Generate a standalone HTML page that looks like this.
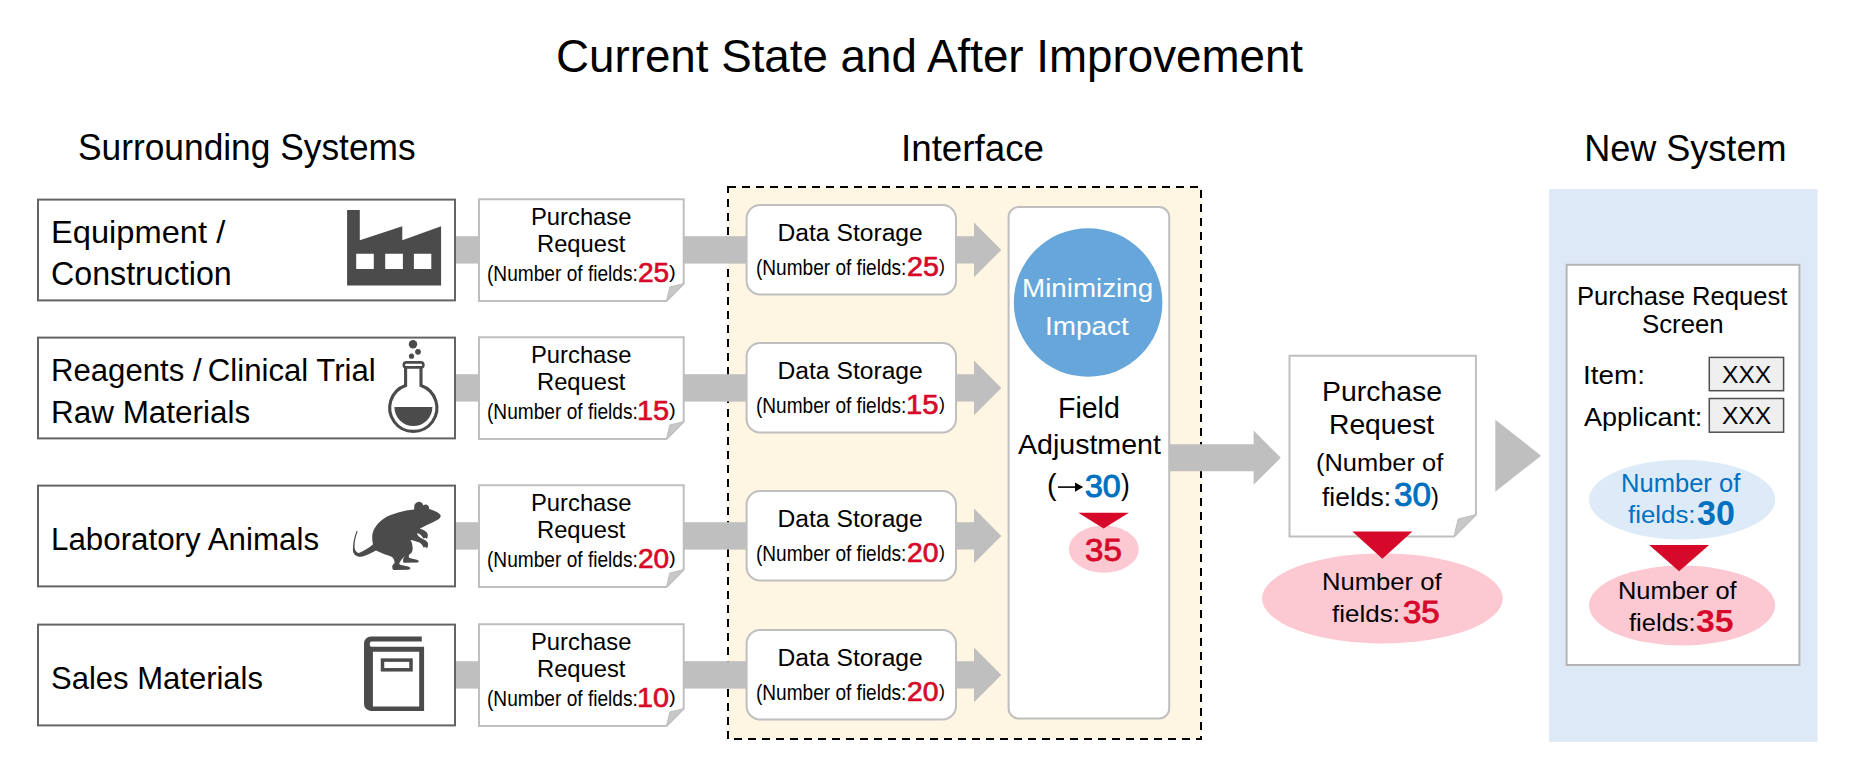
<!DOCTYPE html>
<html><head><meta charset="utf-8"><style>
html,body{margin:0;padding:0;background:#fff;}
body{width:1860px;height:778px;position:relative;overflow:hidden;font-family:"Liberation Sans",sans-serif;}
svg{position:absolute;left:0;top:0;}
.t{position:absolute;white-space:pre;line-height:1;transform-origin:0 0;}
</style></head><body>
<svg width="1860" height="778" viewBox="0 0 1860 778">
<rect x="728" y="187" width="473" height="552" fill="#fef5e3" stroke="#000" stroke-width="2" stroke-dasharray="8 6"/>
<rect x="1549" y="189.2" width="268.5" height="552.7" fill="#dde9f7"/>
<rect x="455" y="236.2" width="292" height="27.4" fill="#bfbfbf"/>
<rect x="38" y="199.6" width="417" height="100.8" fill="#fff" stroke="#646464" stroke-width="2"/>
<path d="M479,199.2 H683.7 V283.6 L666.5,300.9 H479 Z" fill="#fff" stroke="#bfbfbf" stroke-width="2" stroke-linejoin="miter"/>
<path d="M666.5,300.9 L669.8,287.0 L683.7,283.6 Z" fill="#c8c8c8" stroke="#bfbfbf" stroke-width="1" stroke-linejoin="round"/>
<rect x="746.6" y="205.1" width="209.4" height="89.4" rx="13.5" ry="13.5" fill="#fff" stroke="#bfbfbf" stroke-width="2"/>
<polygon points="955,236.2 974,236.2 974,222.6 1001.3,249.9 974,277.2 974,263.6 955,263.6" fill="#bfbfbf"/>
<rect x="455" y="374.2" width="292" height="27.4" fill="#bfbfbf"/>
<rect x="38" y="337.6" width="417" height="100.8" fill="#fff" stroke="#646464" stroke-width="2"/>
<path d="M479,337.2 H683.7 V421.6 L666.5,438.9 H479 Z" fill="#fff" stroke="#bfbfbf" stroke-width="2" stroke-linejoin="miter"/>
<path d="M666.5,438.9 L669.8,425.0 L683.7,421.6 Z" fill="#c8c8c8" stroke="#bfbfbf" stroke-width="1" stroke-linejoin="round"/>
<rect x="746.6" y="343.1" width="209.4" height="89.4" rx="13.5" ry="13.5" fill="#fff" stroke="#bfbfbf" stroke-width="2"/>
<polygon points="955,374.2 974,374.2 974,360.6 1001.3,387.9 974,415.2 974,401.6 955,401.6" fill="#bfbfbf"/>
<rect x="455" y="522.2" width="292" height="27.4" fill="#bfbfbf"/>
<rect x="38" y="485.6" width="417" height="100.8" fill="#fff" stroke="#646464" stroke-width="2"/>
<path d="M479,485.2 H683.7 V569.6 L666.5,586.9 H479 Z" fill="#fff" stroke="#bfbfbf" stroke-width="2" stroke-linejoin="miter"/>
<path d="M666.5,586.9 L669.8,573.0 L683.7,569.6 Z" fill="#c8c8c8" stroke="#bfbfbf" stroke-width="1" stroke-linejoin="round"/>
<rect x="746.6" y="491.1" width="209.4" height="89.4" rx="13.5" ry="13.5" fill="#fff" stroke="#bfbfbf" stroke-width="2"/>
<polygon points="955,522.2 974,522.2 974,508.6 1001.3,535.9 974,563.2 974,549.6 955,549.6" fill="#bfbfbf"/>
<rect x="455" y="661.2" width="292" height="27.4" fill="#bfbfbf"/>
<rect x="38" y="624.6" width="417" height="100.8" fill="#fff" stroke="#646464" stroke-width="2"/>
<path d="M479,624.2 H683.7 V708.6 L666.5,725.9 H479 Z" fill="#fff" stroke="#bfbfbf" stroke-width="2" stroke-linejoin="miter"/>
<path d="M666.5,725.9 L669.8,712.0 L683.7,708.6 Z" fill="#c8c8c8" stroke="#bfbfbf" stroke-width="1" stroke-linejoin="round"/>
<rect x="746.6" y="630.1" width="209.4" height="89.4" rx="13.5" ry="13.5" fill="#fff" stroke="#bfbfbf" stroke-width="2"/>
<polygon points="955,661.2 974,661.2 974,647.6 1001.3,674.9 974,702.2 974,688.6 955,688.6" fill="#bfbfbf"/>
<rect x="1008.6" y="207" width="160.6" height="511.5" rx="10" ry="10" fill="#fff" stroke="#bfbfbf" stroke-width="2"/>
<circle cx="1088.1" cy="302.5" r="74.3" fill="#66a6da"/>
<path d="M1058,487.1 H1076" stroke="#000" stroke-width="1.6"/>
<polygon points="1075,482.4 1083.2,487.1 1075,491.8" fill="#000"/>
<ellipse cx="1103.8" cy="549.1" rx="35" ry="23.6" fill="#fcc9d2"/>
<polygon points="1078.3,512.8 1128.9,512.8 1103.6,528.6" fill="#d7092a"/>
<polygon points="1169,444.2 1253.6,444.2 1253.6,430.6 1280.8,457.7 1253.6,484.8 1253.6,471.2 1169,471.2" fill="#bfbfbf"/>
<path d="M1289.5,355.8 H1475.9 V514.7 L1454,536.6 H1289.5 Z" fill="#fff" stroke="#bfbfbf" stroke-width="2"/>
<path d="M1454,536.6 L1458.2,519 L1475.9,514.7 Z" fill="#c8c8c8" stroke="#bfbfbf" stroke-width="1" stroke-linejoin="round"/>
<ellipse cx="1382.4" cy="598.4" rx="120.3" ry="45" fill="#fcc9d2"/>
<polygon points="1352.3,531.4 1412.4,531.4 1382.4,558.8" fill="#d7092a"/>
<polygon points="1495.3,419.8 1541.1,455.7 1495.3,491.7" fill="#bfbfbf"/>
<rect x="1566.6" y="264.8" width="232.8" height="400.2" fill="#fff" stroke="#b4b4b4" stroke-width="2"/>
<rect x="1709.3" y="357.4" width="74.3" height="33.3" fill="#efefef" stroke="#505050" stroke-width="1.5"/>
<rect x="1709.3" y="398.5" width="74.3" height="33.7" fill="#efefef" stroke="#505050" stroke-width="1.5"/>
<ellipse cx="1682.1" cy="499.6" rx="93.1" ry="39.9" fill="#ddeaf7"/>
<ellipse cx="1682.1" cy="605.5" rx="93.1" ry="39.9" fill="#fcc9d2"/>
<polygon points="1649.2,544.9 1709.1,544.9 1679.1,571.3" fill="#d7092a"/>
<path d="M347.1,210 H359.8 V240.3 L402.3,226.3 V240.3 L441.1,226.3 V285.5 H347.1 Z M356.2,253.7 V269 H373.8 V253.7 Z M385.2,253.7 V269 H402.9 V253.7 Z M413.9,253.7 V269 H431.3 V253.7 Z" fill="#4b4b4b" fill-rule="evenodd"/>
<circle cx="413" cy="344.2" r="4.2" fill="#4b4b4b"/>
<circle cx="418" cy="351.8" r="2.9" fill="#4b4b4b"/>
<circle cx="411.5" cy="356.2" r="2.6" fill="#4b4b4b"/>
<rect x="403.8" y="362.4" width="19.6" height="5" rx="2.5" fill="none" stroke="#4b4b4b" stroke-width="2.6"/>
<path d="M405.6,368 V385.5 A23.6,23.6 0 1 0 421,385.5 V368" fill="none" stroke="#4b4b4b" stroke-width="3.1"/>
<path d="M394.4,407.1 H432.4 A19,19 0 0 1 394.4,407.1 Z" fill="#4b4b4b"/>
<path d="M440.6,515.4 C439.5,512.8 434,510.5 429.1,509.1 C429.5,506.5 427.5,504.3 425.5,504.6 C424.2,504.8 423.6,505.3 423.3,505.6 C422.8,502.5 420.5,501.5 419,501.7 C416.3,502 414.2,503.8 414.3,506.3 L414.1,509.6 C404,510.5 392,513.5 384,518.5 C376,524 372,531 372.2,537.5 C372.3,541 372.6,543 373.1,544.3 C369.5,547.5 364,551 359.6,552.8 C357,553.5 355,551 354.6,548.1 C354.3,544 355.2,537 357.7,531.3 L356.6,531 C354.5,536 352.8,543 352.9,550 C353,554 356,556.8 360.6,556.8 C365,556.8 371,553 376,550.6 C379,552 382,553.5 385,554.6 C388,555.5 390.5,556 391.9,557 C393.5,558 394.5,560 394.6,563.1 C393.5,564 392.5,565 392.3,566.5 C392.1,568.5 392.8,570 394.5,570.1 L408.1,569.7 C409.5,569.5 410.5,568.8 410.3,568.1 C410,567 409,566.5 408.1,566.4 L401,565 C399.8,564.7 399,563.8 399.5,562.8 C401,560 403,557.5 405.1,555.4 C404,557 403.2,558.5 403.1,559.7 L403.1,562.3 C403.2,562.6 403.7,562.7 404.3,562.7 L417.8,562.4 C418.5,562.3 418.9,561.8 418.7,561.2 C418.3,560.2 417,559.7 415.9,559.5 L409.3,558.1 C408.8,557.5 408.7,556 408.9,555 C410.5,553.5 411.8,552.5 412,551.9 C412.8,550 412.8,548 412.6,546.9 C412.3,544 411.5,541.5 410.4,540.1 C412.5,540.5 415.5,541.3 418.1,542.1 C420.5,542.8 422.5,545 423.1,546.7 L423.5,547.5 L425.8,547.1 L427,548.6 C427.8,547 428.3,545 428,543.5 C427.5,541.5 425,539.8 422.7,539 C419.5,537.5 417.5,535.5 417,533.2 C420,533.5 422,536 423.5,538.6 L425.8,537.8 L426.4,538.8 L427.2,538.2 C428.2,536 428,533.6 426.6,532.2 C425,530.8 422,529.3 419.8,528.6 C426,525.5 433,522 436.8,520.2 C439.5,519 441,517 440.6,515.4 Z" fill="#4b4b4b"/>
<path d="M371,636.4 H421.8 V641.6 H371 A3.2,3.2 0 0 0 371,646.8 H424.1 V710.9 H371 A7,7 0 0 1 364,703.9 V643.4 A7,7 0 0 1 371,636.4 Z M372.9,651.7 V706.5 H419.2 V651.7 Z" fill="#4b4b4b" fill-rule="evenodd"/>
<rect x="382.5" y="660.1" width="28.5" height="9.7" fill="none" stroke="#4b4b4b" stroke-width="3.5"/>
</svg>
<div class="t" style="left:555.81px;top:32.86px;font-size:46.69px;transform:scaleX(0.9792);font-weight:normal;color:#000;">Current State and After Improvement</div>
<div class="t" style="left:78.23px;top:128.90px;font-size:37.32px;transform:scaleX(0.9464);font-weight:normal;color:#000;">Surrounding Systems</div>
<div class="t" style="left:901.47px;top:130.28px;font-size:37.19px;transform:scaleX(0.9889);font-weight:normal;color:#000;">Interface</div>
<div class="t" style="left:1584.16px;top:131.24px;font-size:36.05px;font-weight:normal;color:#000;">New System</div>
<div class="t" style="left:50.84px;top:216.74px;font-size:31.54px;transform:scaleX(1.0355);font-weight:normal;color:#000;">Equipment /</div>
<div class="t" style="left:51.18px;top:257.94px;font-size:32.39px;transform:scaleX(0.9941);font-weight:normal;color:#000;">Construction</div>
<div class="t" style="left:50.51px;top:354.88px;font-size:31.01px;transform:scaleX(1.0044);font-weight:normal;color:#000;">Reagents / Clinical Trial</div>
<div class="t" style="left:50.68px;top:395.87px;font-size:32.06px;transform:scaleX(0.9814);font-weight:normal;color:#000;">Raw Materials</div>
<div class="t" style="left:50.80px;top:522.59px;font-size:32.23px;transform:scaleX(0.9719);font-weight:normal;color:#000;">Laboratory Animals</div>
<div class="t" style="left:50.59px;top:662.91px;font-size:31.64px;transform:scaleX(0.9806);font-weight:normal;color:#000;">Sales Materials</div>
<div class="t" style="left:531.06px;top:206.33px;font-size:22.99px;transform:scaleX(1.0344);font-weight:normal;color:#000;">Purchase</div>
<div class="t" style="left:536.70px;top:231.69px;font-size:23.82px;transform:scaleX(0.9963);font-weight:normal;color:#000;">Request</div>
<div class="t" style="left:486.99px;top:262.51px;font-size:21.58px;transform:scaleX(0.8857);font-weight:normal;color:#000;">(Number of fields:</div>
<div class="t" style="left:637.72px;top:259.41px;font-size:27.96px;transform:scaleX(1.0040);font-weight:normal;color:#d7092a;-webkit-text-stroke:0.7px #d7092a;">25</div>
<div class="t" style="left:669.45px;top:262.62px;font-size:18.44px;transform:scaleX(1.0865);font-weight:normal;color:#000;">)</div>
<div class="t" style="left:777.51px;top:220.63px;font-size:24.67px;font-weight:normal;color:#000;">Data Storage</div>
<div class="t" style="left:756.40px;top:256.66px;font-size:21.60px;transform:scaleX(0.8824);font-weight:normal;color:#000;">(Number of fields:</div>
<div class="t" style="left:906.59px;top:253.26px;font-size:27.46px;transform:scaleX(1.0425);font-weight:normal;color:#d7092a;-webkit-text-stroke:0.7px #d7092a;">25</div>
<div class="t" style="left:939.42px;top:257.02px;font-size:18.95px;transform:scaleX(0.9401);font-weight:normal;color:#000;">)</div>
<div class="t" style="left:531.06px;top:344.33px;font-size:22.99px;transform:scaleX(1.0344);font-weight:normal;color:#000;">Purchase</div>
<div class="t" style="left:536.70px;top:369.69px;font-size:23.82px;transform:scaleX(0.9963);font-weight:normal;color:#000;">Request</div>
<div class="t" style="left:486.99px;top:400.51px;font-size:21.58px;transform:scaleX(0.8857);font-weight:normal;color:#000;">(Number of fields:</div>
<div class="t" style="left:637.02px;top:396.34px;font-size:28.54px;transform:scaleX(1.0147);font-weight:normal;color:#d7092a;-webkit-text-stroke:0.7px #d7092a;">15</div>
<div class="t" style="left:669.45px;top:400.62px;font-size:18.44px;transform:scaleX(1.0865);font-weight:normal;color:#000;">)</div>
<div class="t" style="left:777.51px;top:358.63px;font-size:24.67px;font-weight:normal;color:#000;">Data Storage</div>
<div class="t" style="left:756.40px;top:394.66px;font-size:21.60px;transform:scaleX(0.8824);font-weight:normal;color:#000;">(Number of fields:</div>
<div class="t" style="left:906.24px;top:391.26px;font-size:27.46px;transform:scaleX(1.0668);font-weight:normal;color:#d7092a;-webkit-text-stroke:0.7px #d7092a;">15</div>
<div class="t" style="left:939.42px;top:395.02px;font-size:18.95px;transform:scaleX(0.9401);font-weight:normal;color:#000;">)</div>
<div class="t" style="left:531.06px;top:492.33px;font-size:22.99px;transform:scaleX(1.0344);font-weight:normal;color:#000;">Purchase</div>
<div class="t" style="left:536.70px;top:517.69px;font-size:23.82px;transform:scaleX(0.9963);font-weight:normal;color:#000;">Request</div>
<div class="t" style="left:486.99px;top:548.51px;font-size:21.58px;transform:scaleX(0.8857);font-weight:normal;color:#000;">(Number of fields:</div>
<div class="t" style="left:637.73px;top:544.34px;font-size:28.54px;transform:scaleX(0.9836);font-weight:normal;color:#d7092a;-webkit-text-stroke:0.7px #d7092a;">20</div>
<div class="t" style="left:669.45px;top:548.62px;font-size:18.44px;transform:scaleX(1.0865);font-weight:normal;color:#000;">)</div>
<div class="t" style="left:777.51px;top:506.63px;font-size:24.67px;font-weight:normal;color:#000;">Data Storage</div>
<div class="t" style="left:756.40px;top:542.66px;font-size:21.60px;transform:scaleX(0.8824);font-weight:normal;color:#000;">(Number of fields:</div>
<div class="t" style="left:907.10px;top:539.30px;font-size:27.46px;transform:scaleX(1.0298);font-weight:normal;color:#d7092a;-webkit-text-stroke:0.7px #d7092a;">20</div>
<div class="t" style="left:939.42px;top:543.02px;font-size:18.95px;transform:scaleX(0.9401);font-weight:normal;color:#000;">)</div>
<div class="t" style="left:531.06px;top:631.33px;font-size:22.99px;transform:scaleX(1.0344);font-weight:normal;color:#000;">Purchase</div>
<div class="t" style="left:536.70px;top:656.69px;font-size:23.82px;transform:scaleX(0.9963);font-weight:normal;color:#000;">Request</div>
<div class="t" style="left:486.99px;top:687.51px;font-size:21.58px;transform:scaleX(0.8857);font-weight:normal;color:#000;">(Number of fields:</div>
<div class="t" style="left:637.42px;top:683.84px;font-size:27.94px;transform:scaleX(1.0296);font-weight:normal;color:#d7092a;-webkit-text-stroke:0.7px #d7092a;">10</div>
<div class="t" style="left:669.45px;top:687.62px;font-size:18.44px;transform:scaleX(1.0865);font-weight:normal;color:#000;">)</div>
<div class="t" style="left:777.51px;top:645.63px;font-size:24.67px;font-weight:normal;color:#000;">Data Storage</div>
<div class="t" style="left:756.40px;top:681.66px;font-size:21.60px;transform:scaleX(0.8824);font-weight:normal;color:#000;">(Number of fields:</div>
<div class="t" style="left:907.10px;top:678.30px;font-size:27.46px;transform:scaleX(1.0298);font-weight:normal;color:#d7092a;-webkit-text-stroke:0.7px #d7092a;">20</div>
<div class="t" style="left:939.42px;top:682.02px;font-size:18.95px;transform:scaleX(0.9401);font-weight:normal;color:#000;">)</div>
<div class="t" style="left:1022.19px;top:274.71px;font-size:26.38px;transform:scaleX(1.0526);font-weight:normal;color:#fff;">Minimizing</div>
<div class="t" style="left:1045.18px;top:313.68px;font-size:25.62px;transform:scaleX(1.0887);font-weight:normal;color:#fff;">Impact</div>
<div class="t" style="left:1057.83px;top:394.07px;font-size:28.68px;transform:scaleX(0.9932);font-weight:normal;color:#000;">Field</div>
<div class="t" style="left:1017.70px;top:430.59px;font-size:27.54px;transform:scaleX(1.0372);font-weight:normal;color:#000;">Adjustment</div>
<div class="t" style="left:1047.23px;top:470.67px;font-size:28.59px;transform:scaleX(1.0061);font-weight:normal;color:#000;">(</div>
<div class="t" style="left:1085.05px;top:471.19px;font-size:31.72px;transform:scaleX(1.0131);font-weight:normal;color:#0070c0;-webkit-text-stroke:1.0px #0070c0;">30</div>
<div class="t" style="left:1121.18px;top:470.66px;font-size:28.61px;transform:scaleX(0.9227);font-weight:normal;color:#000;">)</div>
<div class="t" style="left:1085.23px;top:533.97px;font-size:32.02px;transform:scaleX(1.0339);font-weight:normal;color:#d7092a;-webkit-text-stroke:0.9px #d7092a;">35</div>
<div class="t" style="left:1321.93px;top:377.96px;font-size:27.10px;transform:scaleX(1.0485);font-weight:normal;color:#000;">Purchase</div>
<div class="t" style="left:1329.19px;top:410.63px;font-size:27.20px;transform:scaleX(1.0388);font-weight:normal;color:#000;">Request</div>
<div class="t" style="left:1316.00px;top:450.81px;font-size:24.39px;transform:scaleX(1.0434);font-weight:normal;color:#000;">(Number of</div>
<div class="t" style="left:1322.09px;top:484.78px;font-size:24.87px;transform:scaleX(1.0620);font-weight:normal;color:#000;">fields:</div>
<div class="t" style="left:1393.80px;top:478.46px;font-size:32.99px;transform:scaleX(1.0086);font-weight:normal;color:#0070c0;-webkit-text-stroke:0.9px #0070c0;">30</div>
<div class="t" style="left:1431.25px;top:484.81px;font-size:24.40px;transform:scaleX(0.9705);font-weight:normal;color:#000;">)</div>
<div class="t" style="left:1322.37px;top:570.28px;font-size:24.31px;transform:scaleX(1.0548);font-weight:normal;color:#000;">Number of</div>
<div class="t" style="left:1332.43px;top:602.14px;font-size:24.01px;transform:scaleX(1.0832);font-weight:normal;color:#000;">fields:</div>
<div class="t" style="left:1403.18px;top:597.02px;font-size:31.08px;transform:scaleX(1.0624);font-weight:normal;color:#d7092a;-webkit-text-stroke:1.0px #d7092a;">35</div>
<div class="t" style="left:1577.29px;top:283.78px;font-size:24.87px;transform:scaleX(1.0282);font-weight:normal;color:#000;">Purchase Request</div>
<div class="t" style="left:1641.56px;top:311.40px;font-size:26.03px;transform:scaleX(0.9907);font-weight:normal;color:#000;">Screen</div>
<div class="t" style="left:1582.52px;top:362.97px;font-size:25.50px;transform:scaleX(1.0917);font-weight:normal;color:#000;">Item:</div>
<div class="t" style="left:1722.10px;top:362.95px;font-size:24.07px;transform:scaleX(1.0233);font-weight:normal;color:#000;">XXX</div>
<div class="t" style="left:1584.08px;top:403.75px;font-size:26.44px;transform:scaleX(1.0194);font-weight:normal;color:#000;">Applicant:</div>
<div class="t" style="left:1722.16px;top:403.57px;font-size:24.39px;transform:scaleX(1.0079);font-weight:normal;color:#000;">XXX</div>
<div class="t" style="left:1620.69px;top:471.34px;font-size:25.00px;transform:scaleX(1.0217);font-weight:normal;color:#0070c0;">Number of</div>
<div class="t" style="left:1627.59px;top:503.33px;font-size:24.69px;transform:scaleX(1.0471);font-weight:normal;color:#0070c0;">fields:</div>
<div class="t" style="left:1697.39px;top:496.17px;font-size:34.18px;transform:scaleX(0.9955);font-weight:bold;color:#0070c0;">30</div>
<div class="t" style="left:1617.81px;top:579.20px;font-size:24.15px;transform:scaleX(1.0527);font-weight:normal;color:#000;">Number of</div>
<div class="t" style="left:1628.70px;top:611.96px;font-size:23.36px;transform:scaleX(1.0933);font-weight:normal;color:#000;">fields:</div>
<div class="t" style="left:1696.48px;top:606.40px;font-size:31.95px;transform:scaleX(1.0621);font-weight:bold;color:#d7092a;">35</div>
</body></html>
